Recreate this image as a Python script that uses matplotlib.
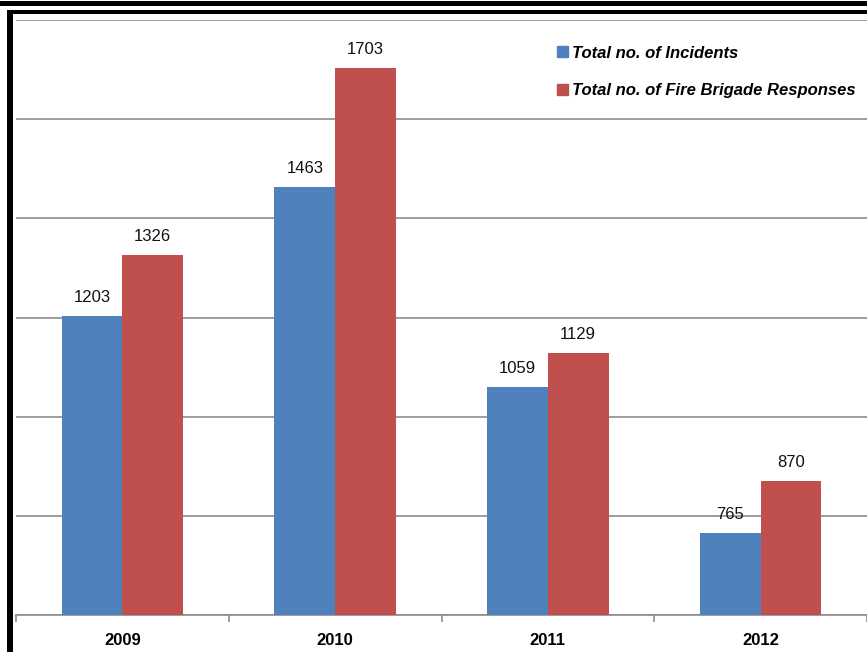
import matplotlib
matplotlib.use("Agg")
import matplotlib.pyplot as plt
from matplotlib.patches import Rectangle, Patch
import numpy as np

years = ["2009", "2010", "2011", "2012"]
incidents = [1203, 1463, 1059, 765]
responses = [1326, 1703, 1129, 870]
series_names = ["Total no. of Incidents", "Total no. of Fire Brigade Responses"]

BLUE = "#4F81BD"
RED = "#C0504D"
GRID = "#8C8C8C"

W, H = 867, 652
fig = plt.figure(figsize=(W / 100, H / 100), dpi=100)
ax = fig.add_axes([16 / W, 1 - 615 / H, 1 - 16 / W, (615 - 20) / H])

x = np.arange(len(years))
bw = 0.285
b1 = ax.bar(x - bw / 2, incidents, bw, color=BLUE, zorder=3)
b2 = ax.bar(x + bw / 2, responses, bw, color=RED, zorder=3)

for bars, vals in ((b1, incidents), (b2, responses)):
    for bar, v in zip(bars, vals):
        ax.annotate(str(v), xy=(bar.get_x() + bar.get_width() / 2, v),
                    xytext=(0, 8), textcoords="offset points",
                    ha="center", va="bottom", fontsize=12,
                    family="Liberation Sans", color="#111")

ax.set_xlim(-0.5, len(years) - 0.5)
ax.set_ylim(600, 1800)
ax.set_yticks(np.arange(600, 1801, 200))
ax.set_yticklabels([])
ax.tick_params(axis="y", length=0)
ax.yaxis.grid(True, color=GRID, linewidth=1.2, zorder=0)

ax.set_xticks(x)
ax.set_xticklabels(years, fontsize=12, fontweight="bold", family="Liberation Sans")
ax.tick_params(axis="x", which="major", length=0, pad=13)
ax.set_xticks(np.arange(-0.5, len(years) + 0.5, 1), minor=True)
ax.tick_params(axis="x", which="minor", length=5, color=GRID, width=1.2)

for s in ("top", "right", "left"):
    ax.spines[s].set_visible(False)
ax.spines["bottom"].set_color(GRID)
ax.spines["bottom"].set_linewidth(1.2)

handles = [Patch(color=BLUE), Patch(color=RED)]
fig.legend(handles, series_names, loc="upper left",
           bbox_to_anchor=(550 / W, 1 - 39 / H), frameon=False,
           handlelength=0.65, handleheight=0.65, handletextpad=0.3,
           labelspacing=1.35, borderaxespad=0,
           prop={"family": "Liberation Sans", "weight": "bold",
                 "style": "italic", "size": 12})

# black frame around the chart
def px_rect(x0, y0, x1, y1):
    fig.add_artist(Rectangle((x0 / W, 1 - y1 / H), (x1 - x0) / W, (y1 - y0) / H,
                             transform=fig.transFigure, color="black", lw=0))

px_rect(0, 1, W, 6)
px_rect(7, 10, W, 14)
px_rect(7, 10, 13, H)

fig.savefig("out.png", dpi=100)
